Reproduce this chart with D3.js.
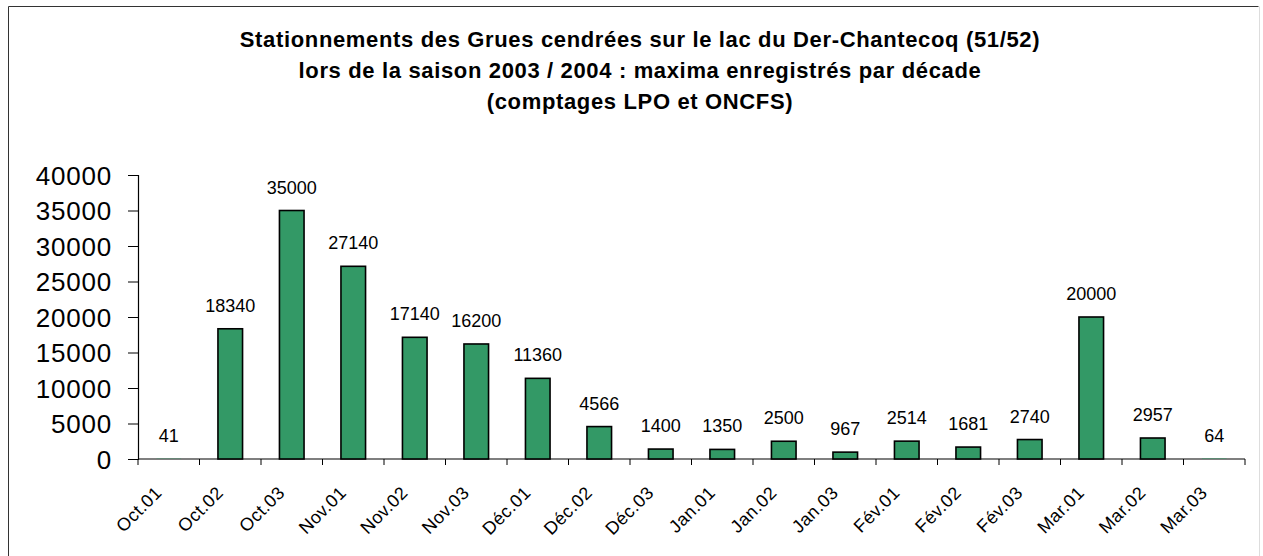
<!DOCTYPE html>
<html>
<head>
<meta charset="utf-8">
<script src="https://cdn.jsdelivr.net/npm/d3@7"></script>
<style>
  body { margin: 0; background: #fff; }
  text { font-family: Arial, "Liberation Sans", sans-serif; }
</style>
</head>
<body>
<div id="chart"></div>
<script>
// decades of the 2003/2004 season
var decades = ["Oct.01","Oct.02","Oct.03","Nov.01","Nov.02","Nov.03","Déc.01","Déc.02","Déc.03",
  "Jan.01","Jan.02","Jan.03","Fév.01","Fév.02","Fév.03","Mar.01","Mar.02","Mar.03"];
// max counted cranes per decade
var maxima = [41,18340,35000,27140,17140,16200,11360,4566,1400,1350,2500,967,2514,1681,2740,20000,2957,64];
var yTicks = [0,5000,10000,15000,20000,25000,30000,35000,40000];
var titleLines = [
  "Stationnements des Grues cendrées sur le lac du Der-Chantecoq (51/52)",
  "lors de la saison 2003 / 2004 : maxima enregistrés par décade",
  "(comptages LPO et ONCFS)"
];

var width = 1263, height = 556;
var margin = {top: 175, bottom: 97, left: 138, right: 18};

var svg = d3.select("#chart")
  .append("svg")
  .attr("width", width)
  .attr("height", height);

// frame around the chart area (bottom edge is cut off in the original)
svg.append("path")
  .attr("d", "M8.5,560 L8.5,6.5 L1258.5,6.5")
  .attr("fill", "none")
  .attr("stroke", "#333")
  .attr("stroke-width", 1);
svg.append("line")
  .attr("x1", 1259.5).attr("x2", 1259.5)
  .attr("y1", 6.5).attr("y2", 560)
  .attr("stroke", "#ddd");

// title
svg.append("g")
  .attr("class", "title")
  .selectAll("text")
  .data(titleLines)
  .join("text")
  .attr("x", 640)
  .attr("y", (d, i) => 47 + i * 31)
  .attr("text-anchor", "middle")
  .style("font-size", "22px")
  .style("font-weight", "bold")
  .style("letter-spacing", "0.65px")
  .text(d => d);

var x = d3.scaleBand()
  .domain(decades)
  .range([margin.left, width - margin.right])
  .padding(0);

var y = d3.scaleLinear()
  .domain([0, 40000])
  .range([height - margin.bottom, margin.top]);

// y axis
var yAxis = svg.append("g")
  .attr("class", "yAxis")
  .attr("transform", `translate(${margin.left},0)`)
  .call(d3.axisLeft(y).tickValues(yTicks).tickSize(10).tickPadding(16).tickFormat(d3.format("d")));
yAxis.select(".domain").attr("stroke", "#000").attr("stroke-width", 1.2);
yAxis.selectAll(".tick line").attr("stroke", "#000");
yAxis.selectAll("text")
  .attr("fill", "#000")
  .style("font-size", "26px")
  .style("letter-spacing", "0.8px")
  .attr("dy", "0.36em");

// x axis, ticks sit between categories
var xAxis = svg.append("g")
  .attr("class", "xAxis")
  .attr("transform", `translate(0,${y(0)})`);
xAxis.append("line")
  .attr("x1", margin.left).attr("x2", width - margin.right)
  .attr("stroke", "#000").attr("stroke-width", 1.2);
var bounds = decades.map(d => x(d)).concat([x(decades[decades.length - 1]) + x.bandwidth()]);
xAxis.selectAll("line.tick")
  .data(bounds)
  .join("line")
  .attr("class", "tick")
  .attr("x1", d => d).attr("x2", d => d)
  .attr("y1", 0).attr("y2", 6)
  .attr("stroke", "#000");
xAxis.selectAll("text")
  .data(decades)
  .join("text")
  .attr("transform", d => `translate(${x(d) + x.bandwidth() / 2 - 6},${35}) rotate(-45)`)
  .attr("text-anchor", "end")
  .style("font-size", "18px")
  .style("letter-spacing", "0.4px")
  .text(d => d);

// bars
var barW = x.bandwidth() / 2.5;
svg.append("g")
  .attr("class", "bars")
  .selectAll("rect")
  .data(maxima)
  .join("rect")
  .attr("x", (d, i) => x(decades[i]) + (x.bandwidth() - barW) / 2)
  .attr("y", d => y(d))
  .attr("width", barW)
  .attr("height", d => y(0) - y(d))
  .attr("fill", "#339966")
  .attr("stroke", "#000")
  .attr("stroke-width", d => (y(0) - y(d)) < 1 ? 0 : 1.6);

// value labels
svg.append("g")
  .attr("class", "labels")
  .selectAll("text")
  .data(maxima)
  .join("text")
  .attr("x", (d, i) => x(decades[i]) + x.bandwidth() / 2)
  .attr("y", d => y(d) - 17)
  .attr("text-anchor", "middle")
  .style("font-size", "18px")
  .text(d => d);
</script>
</body>
</html>
